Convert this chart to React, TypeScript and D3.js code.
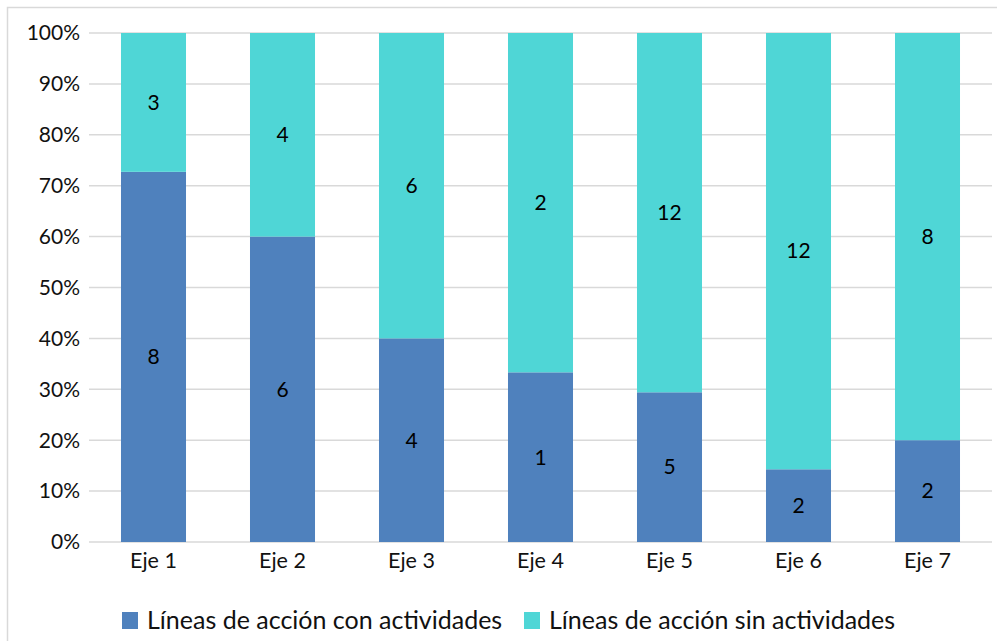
import * as d3 from "d3";

const categories = ["Eje 1", "Eje 2", "Eje 3", "Eje 4", "Eje 5", "Eje 6", "Eje 7"];
const conActividades = [8, 6, 4, 1, 5, 2, 2];
const sinActividades = [3, 4, 6, 2, 12, 12, 8];
const seriesNames = ["Líneas de acción con actividades", "Líneas de acción sin actividades"];
const seriesColors = ["#4F81BD", "#4FD6D6"];
const yTicks = [0, 0.1, 0.2, 0.3, 0.4, 0.5, 0.6, 0.7, 0.8, 0.9, 1];

const W = 997;
const H = 641;
const margin = { left: 89, right: 5, top: 33, bottom: 99 };
const font = "Lato, 'Open Sans', sans-serif";

export default function App() {
  const x = d3
    .scaleBand<string>()
    .domain(categories)
    .range([margin.left, W - margin.right])
    .paddingInner(0.496)
    .paddingOuter(0.248);
  const y = d3.scaleLinear().domain([0, 1]).range([H - margin.bottom, margin.top]);

  const rows = categories.map((c, i) => ({ cat: c, con: conActividades[i], sin: sinActividades[i] }));
  const stacked = d3
    .stack<any>()
    .keys(["con", "sin"])
    .offset(d3.stackOffsetExpand)(rows);

  return (
    <svg
      width={W}
      height={H}
      style={{ position: "absolute", left: 0, top: 0, background: "#fff" }}
    >
      <rect x={7.5} y={7.5} width={W + 10} height={H + 10} fill="#fff" stroke="#d9d9d9" strokeWidth={1.5} />
      {yTicks.map((t) => (
        <g key={t}>
          <line x1={margin.left} x2={W - margin.right} y1={y(t)} y2={y(t)} stroke="#d9d9d9" strokeWidth={1.5} />
          <text
            x={80}
            y={y(t)}
            dy="0.35em"
            textAnchor="end"
            fontFamily={font}
            fontSize={21}
            fill="#111"
          >
            {d3.format(".0%")(t)}
          </text>
        </g>
      ))}
      {stacked.map((s, si) =>
        s.map((d, i) => {
          const y0 = y(d[0]);
          const y1 = y(d[1]);
          const val = si === 0 ? conActividades[i] : sinActividades[i];
          return (
            <g key={`${si}-${i}`}>
              <rect
                x={x(categories[i])}
                y={y1}
                width={x.bandwidth()}
                height={y0 - y1}
                fill={seriesColors[si]}
              />
              <text
                x={(x(categories[i]) as number) + x.bandwidth() / 2}
                y={(y0 + y1) / 2}
                dy="0.35em"
                textAnchor="middle"
                fontFamily={font}
                fontSize={21}
                fill="#000"
              >
                {val}
              </text>
            </g>
          );
        })
      )}
      {categories.map((c) => (
        <text
          key={c}
          x={(x(c) as number) + x.bandwidth() / 2}
          y={568}
          textAnchor="middle"
          fontFamily={font}
          fontSize={21.5}
          fill="#111"
        >
          {c}
        </text>
      ))}
      {seriesNames.map((n, i) => {
        const lx = i === 0 ? 122 : 524;
        return (
          <g key={n}>
            <rect x={lx} y={612} width={16} height={17} fill={seriesColors[i]} />
            <text x={lx + 25} y={629} fontFamily={font} fontSize={25} fill="#111">
              {n}
            </text>
          </g>
        );
      })}
    </svg>
  );
}
